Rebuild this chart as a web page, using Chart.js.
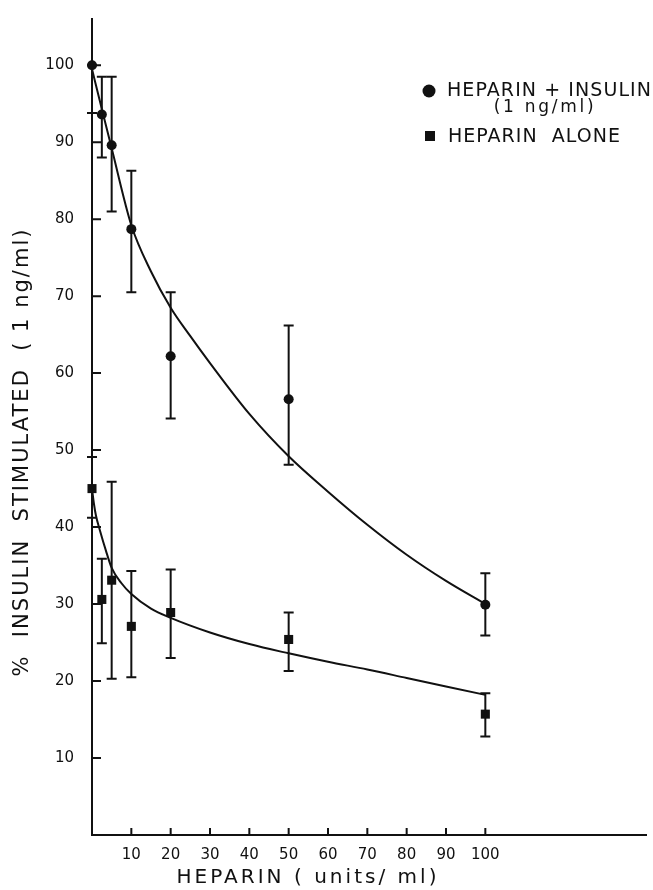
<!DOCTYPE html>
<html>
<head>
<meta charset="utf-8">
<script src="https://cdn.jsdelivr.net/npm/chart.js@4.4.1/dist/chart.umd.min.js"></script>
<style>
    html, body { margin: 0; padding: 0; background: #fff; }
    #heparinChart { display: block; }
</style>
</head>
<body>
<canvas id="heparinChart" width="653" height="890"></canvas>
<script>
// heparin doses (units/ml)
const doses = [0, 2.5, 5, 10, 20, 50, 100];

// heparin + insulin (1 ng/ml): mean and error bar ends
const insulinMean = [100, 93.6, 89.6, 78.7, 62.2, 56.6, 29.9];
const insulinHigh = [100, 98.5, 98.5, 86.3, 70.5, 66.2, 34.0];
const insulinLow = [93.8, 88.0, 81.0, 70.5, 54.1, 48.1, 25.9];

// heparin alone
const aloneMean = [45.0, 30.6, 33.1, 27.1, 28.9, 25.4, 15.7];
const aloneHigh = [49.1, 35.9, 45.9, 34.3, 34.5, 28.9, 18.4];
const aloneLow = [41.2, 24.9, 20.3, 20.5, 23.0, 21.3, 12.8];

// fitted curves
const insulinCurveX = [0, 2.5, 5, 10, 15, 20, 25, 30, 40, 50, 60, 70, 80, 90, 100];
const insulinCurveY = [99.5, 94.3, 89.2, 79.2, 73.2, 68.5, 64.8, 61.3, 54.7, 49.2, 44.6, 40.3, 36.4, 33, 30];
const aloneCurveX = [0, 0.5, 1, 2, 3.5, 5, 7.5, 10, 15, 20, 30, 40, 50, 60, 70, 80, 90, 100];
const aloneCurveY = [45, 43, 41.5, 39.6, 37, 34.7, 32.7, 31.3, 29.4, 28.2, 26.3, 24.8, 23.6, 22.5, 21.5, 20.4, 19.3, 18.2];

// tick labels
const xTicks = [10, 20, 30, 40, 50, 60, 70, 80, 90, 100];
const yTicks = [10, 20, 30, 40, 50, 60, 70, 80, 90, 100];

const ink = '#111';
const fontFamily = '"DejaVu Sans", "Liberation Sans", sans-serif';

const toPoints = (xs, ys) => xs.map((x, i) => ({ x: x, y: ys[i] }));

// stretch the letters so the text spans a given width
function fitText(ctx, text, width) {
    ctx.letterSpacing = '0px';
    const w = ctx.measureText(text).width;
    ctx.letterSpacing = ((width - w) / (text.length - 1)) + 'px';
}

// vertical error bars with caps
const errorBars = {
    id: 'errorBars',
    afterDatasetsDraw(chart) {
        const { ctx, scales: { x, y } } = chart;
        const ranges = [[insulinLow, insulinHigh], [aloneLow, aloneHigh]];
        ctx.save();
        ctx.strokeStyle = ink;
        ctx.lineWidth = 2;
        ranges.forEach(([lo, hi]) => {
            doses.forEach((d, i) => {
                const px = x.getPixelForValue(d);
                const top = y.getPixelForValue(hi[i]);
                const bot = y.getPixelForValue(lo[i]);
                ctx.beginPath();
                ctx.moveTo(px, top);
                ctx.lineTo(px, bot);
                ctx.moveTo(px - 5, top);
                ctx.lineTo(px + 5, top);
                ctx.moveTo(px - 5, bot);
                ctx.lineTo(px + 5, bot);
                ctx.stroke();
            });
        });
        ctx.restore();
    }
};

// tick marks pointing into the plot, legend and axis titles
const decorations = {
    id: 'decorations',
    afterDraw(chart) {
        const { ctx, chartArea, scales: { x, y } } = chart;
        ctx.save();
        ctx.strokeStyle = ink;
        ctx.fillStyle = ink;
        ctx.lineWidth = 2;

        ctx.beginPath();
        x.ticks.forEach(t => {
            const px = x.getPixelForValue(t.value);
            ctx.moveTo(px, chartArea.bottom);
            ctx.lineTo(px, chartArea.bottom - 7);
        });
        y.ticks.forEach(t => {
            const py = y.getPixelForValue(t.value);
            ctx.moveTo(chartArea.left, py);
            ctx.lineTo(chartArea.left + 9, py);
        });
        ctx.stroke();

        // legend
        const sets = chart.data.datasets;
        ctx.beginPath();
        ctx.arc(429, 91, 6.5, 0, Math.PI * 2);
        ctx.fill();
        ctx.fillRect(425, 131, 10, 10);

        ctx.textBaseline = 'middle';
        ctx.textAlign = 'left';
        ctx.font = '19px ' + fontFamily;
        fitText(ctx, sets[0].label[0], 204);
        ctx.fillText(sets[0].label[0], 447, 91);
        fitText(ctx, sets[1].label, 172);
        ctx.fillText(sets[1].label, 448, 137);

        ctx.textAlign = 'center';
        ctx.font = '17px ' + fontFamily;
        fitText(ctx, sets[0].label[1], 100);
        ctx.fillText(sets[0].label[1], 545, 108);

        // axis titles
        const xTitle = 'HEPARIN ( units/ ml)';
        ctx.font = '20px ' + fontFamily;
        fitText(ctx, xTitle, 260);
        ctx.fillText(xTitle, 308, 878);

        const yTitle = '%  INSULIN  STIMULATED  ( 1 ng/ml)';
        ctx.translate(23, 452);
        ctx.rotate(-Math.PI / 2);
        ctx.font = '21px ' + fontFamily;
        fitText(ctx, yTitle, 447);
        ctx.fillText(yTitle, 0, 0);
        ctx.restore();
    }
};

const tickFont = { family: fontFamily, size: 15 };

const ctx = document.getElementById('heparinChart').getContext('2d');
const chart = new Chart(ctx, {
    type: 'scatter',
    data: {
        datasets: [{
            label: ['HEPARIN + INSULIN', '(1 ng/ml)'],
            data: toPoints(doses, insulinMean),
            pointStyle: 'circle',
            pointRadius: 5,
            backgroundColor: ink,
            borderColor: ink,
            borderWidth: 0,
            clip: false
        }, {
            label: 'HEPARIN  ALONE',
            data: toPoints(doses, aloneMean),
            pointStyle: 'rect',
            pointRadius: 6.4,
            backgroundColor: ink,
            borderColor: ink,
            borderWidth: 0,
            clip: false
        }, {
            label: 'insulin fit',
            data: toPoints(insulinCurveX, insulinCurveY),
            showLine: true,
            pointRadius: 0,
            borderColor: ink,
            borderWidth: 2,
            cubicInterpolationMode: 'monotone'
        }, {
            label: 'alone fit',
            data: toPoints(aloneCurveX, aloneCurveY),
            showLine: true,
            pointRadius: 0,
            borderColor: ink,
            borderWidth: 2,
            cubicInterpolationMode: 'monotone'
        }]
    },
    options: {
        responsive: false,
        animation: false,
        devicePixelRatio: 1,
        layout: { padding: { top: 12, right: 0, left: 0, bottom: 0 } },
        plugins: {
            legend: { display: false },
            tooltip: { enabled: false }
        },
        scales: {
            x: {
                type: 'linear',
                min: 0,
                max: 141,
                afterBuildTicks: scale => { scale.ticks = xTicks.map(v => ({ value: v })); },
                afterFit: scale => { scale.height = 55; },
                grid: { display: false },
                border: { display: true, color: ink, width: 2 },
                ticks: { font: tickFont, color: ink, padding: 3, autoSkip: false, maxRotation: 0 }
            },
            y: {
                type: 'linear',
                min: 0,
                max: 106,
                afterBuildTicks: scale => { scale.ticks = yTicks.map(v => ({ value: v })); },
                afterFit: scale => { scale.width = 92; },
                grid: { display: false },
                border: { display: true, color: ink, width: 2 },
                ticks: { font: tickFont, color: ink, padding: 10, autoSkip: false }
            }
        }
    },
    plugins: [errorBars, decorations]
});
</script>
</body>
</html>
